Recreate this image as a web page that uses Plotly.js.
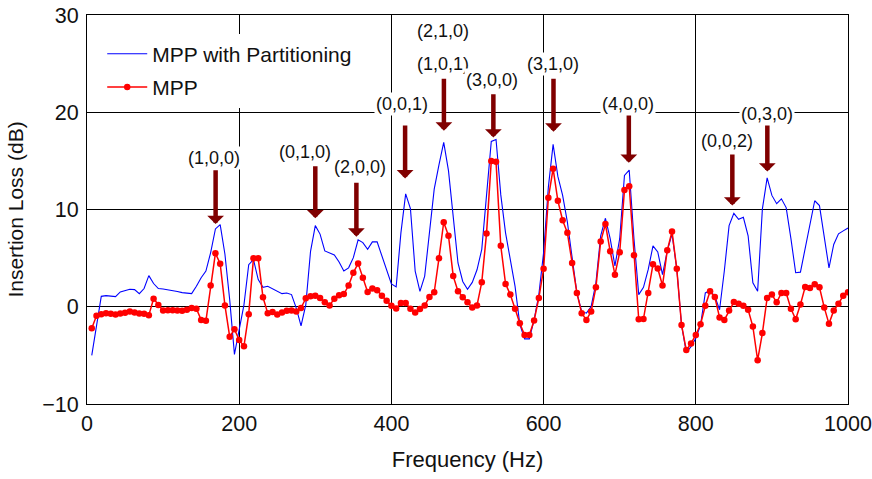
<!DOCTYPE html>
<html>
<head>
<meta charset="utf-8">
<script src="https://cdn.plot.ly/plotly-3.0.1.min.js"></script>
<style>html,body{margin:0;padding:0;background:#fff;}#chart{width:872px;height:479px;}</style>
</head>
<body>
<div id="chart"></div>
<script>
// Frequency grid (Hz)
var freq = [
6.25,12.5,18.75,25,31.25,37.5,43.75,50,56.25,62.5,68.75,75,81.25,87.5,93.75,100,
106.25,112.5,118.75,125,131.25,137.5,143.75,150,156.25,162.5,168.75,175,181.25,187.5,193.75,200,
206.25,212.5,218.75,225,231.25,237.5,243.75,250,256.25,262.5,268.75,275,281.25,287.5,293.75,300,
306.25,312.5,318.75,325,331.25,337.5,343.75,350,356.25,362.5,368.75,375,381.25,387.5,393.75,400,
406.25,412.5,418.75,425,431.25,437.5,443.75,450,456.25,462.5,468.75,475,481.25,487.5,493.75,500,
506.25,512.5,518.75,525,531.25,537.5,543.75,550,556.25,562.5,568.75,575,581.25,587.5,593.75,600,
606.25,612.5,618.75,625,631.25,637.5,643.75,650,656.25,662.5,668.75,675,681.25,687.5,693.75,700,
706.25,712.5,718.75,725,731.25,737.5,743.75,750,756.25,762.5,768.75,775,781.25,787.5,793.75,800,
806.25,812.5,818.75,825,831.25,837.5,843.75,850,856.25,862.5,868.75,875,881.25,887.5,893.75,900,
906.25,912.5,918.75,925,931.25,937.5,943.75,950,956.25,962.5,968.75,975,981.25,987.5,993.75,1000];

// Insertion loss, MPP with Partitioning (dB)
var ilPartition = [
-5.0,-2.0,1.07,1.14,1.07,1.04,1.52,1.63,1.8,1.76,1.35,1.87,3.2,2.39,1.87,1.83,
1.76,1.66,1.56,1.45,1.38,1.35,2.11,2.98,3.67,5.57,8.0,8.44,5.4,0.73,-4.9,-2.4,
0.2,4.33,4.84,2.8,2.0,2.1,1.83,1.6,1.35,1.42,1.25,-0.14,-1.97,0.2,5.7,8.34,
7.47,5.74,5.5,5.33,4.6,3.67,4.0,5.05,6.89,6.6,5.9,6.67,6.67,5.22,3.67,2.35,
2.04,7.6,11.6,10.1,3.67,1.59,3.15,8.0,12.1,14.6,16.9,14.0,9.4,4.5,2.6,1.8,
2.5,3.8,5.9,11.5,17.0,17.2,11.5,7.6,4.9,2.1,-1.8,-3.3,-3.3,-1.35,1.25,5.57,
12.3,16.7,13.4,11.45,8.7,4.9,1.42,-0.48,-0.66,0.03,2.46,7.3,9.1,7.0,4.2,7.0,
13.5,14.05,7.0,1.25,2.0,3.84,6.26,5.64,3.3,5.74,7.47,3.9,-1.87,-4.7,-4.1,-3.25,
-1.87,1.42,1.66,1.07,-0.31,3.7,8.34,9.6,9.0,9.2,7.3,2.46,1.6,10.07,13.26,11.45,
10.6,11.1,10.2,7.0,3.5,3.56,5.9,8.34,10.9,10.4,7.0,4.0,6.4,7.5,7.8,8.1];

// Insertion loss, MPP (dB)
var ilMPP = [
-2.2,-0.93,-0.76,-0.66,-0.73,-0.8,-0.7,-0.62,-0.5,-0.6,-0.7,-0.73,-0.87,0.83,0.17,-0.38,
-0.35,-0.35,-0.38,-0.4,-0.3,-0.14,-0.2,-1.35,-1.45,2.18,5.5,4.43,0.14,-3.08,-2.32,-3.43,
-4.05,-0.76,4.98,4.98,0.97,-0.66,-0.55,-0.8,-0.59,-0.42,-0.38,-0.48,-0.14,0.87,1.07,1.14,
0.9,0.45,0.14,0.83,1.18,1.31,2.18,3.5,4.46,2.98,1.52,1.87,1.7,1.14,0.62,0.1,
-0.17,0.38,0.38,-0.2,-0.59,-0.24,0.14,1.0,1.49,4.98,8.69,7.3,3.15,1.59,0.97,0.45,
-0.07,0.14,2.53,7.54,15.0,14.9,6.26,2.35,1.25,-0.2,-1.7,-2.9,-2.9,-1.42,0.9,3.9,
11.2,14.2,10.9,8.9,7.6,4.5,1.42,-0.66,-1.35,-0.48,2.0,6.7,8.5,5.7,3.3,5.6,
12.0,12.4,5.3,-1.28,-1.25,1.42,4.36,3.94,2.18,5.8,7.75,3.9,-1.87,-4.46,-3.77,-2.9,
-1.8,0.1,1.6,1.0,-1.1,-1.35,-0.38,0.48,0.31,0.1,-0.31,-2.04,-5.5,-2.7,0.9,1.25,
0.45,1.42,1.42,-0.2,-1.28,0.24,2.04,1.94,2.32,2.0,-0.07,-1.76,-0.38,0.31,1.14,1.49];

// Mode labels
var modeLabels = ["(1,0,0)","(0,1,0)","(2,0,0)","(0,0,1)","(2,1,0)","(1,0,1)","(3,0,0)","(3,1,0)","(4,0,0)","(0,0,2)","(0,3,0)"];
var labelX = [167, 286, 359, 414, 468, 468, 532, 612, 711, 841, 893];
var labelY = [15.3, 15.9, 14.4, 20.8, 28.4, 25.0, 23.3, 25.0, 20.8, 17.0, 19.8];

// Mode arrows
var arrowX = [169, 300, 354, 418, 469, 534, 613, 712, 848, 894];
var arrowTail = [14.2, 14.6, 12.9, 18.8, 23.6, 22.0, 23.6, 20.1, 15.8, 18.9];
var arrowHead = [8.5, 9.1, 7.2, 13.2, 18.1, 17.4, 18.0, 14.8, 10.4, 13.9];

var FONT = 'Arial, "Liberation Sans", sans-serif';
var TXT = '#111111';

var traces = [
  {x: freq, y: ilPartition, type: 'scatter', mode: 'lines', name: 'MPP with Partitioning',
   line: {color: '#0000ff', width: 1.1}, legendgroup: 'a'},
  {x: freq, y: ilMPP, type: 'scatter', mode: 'lines+markers', name: 'MPP',
   line: {color: '#ff0000', width: 1.5}, marker: {color: '#ff0000', size: 6.5}, legendgroup: 'b'}
];

var annotations = [];
for (var i = 0; i < arrowX.length; i++) {
  annotations.push({
    x: arrowX[i], y: arrowHead[i], xref: 'x', yref: 'y',
    ax: arrowX[i], ay: arrowTail[i], axref: 'x', ayref: 'y',
    text: '', showarrow: true, arrowhead: 1, arrowwidth: 4.5, arrowsize: 0.62,
    arrowcolor: '#800000', standoff: 0
  });
}
for (var j = 0; j < modeLabels.length; j++) {
  annotations.push({
    x: labelX[j], y: labelY[j], xref: 'x', yref: 'y', text: modeLabels[j],
    showarrow: false, bgcolor: '#ffffff', borderpad: 1,
    font: {family: FONT, size: 18, color: TXT}
  });
}

var layout = {
  width: 872, height: 479,
  margin: {l: 87, r: 24, t: 15, b: 75},
  paper_bgcolor: '#ffffff', plot_bgcolor: '#ffffff',
  font: {family: FONT, size: 21, color: TXT},
  showlegend: true,
  legend: {x: 0.02, y: 0.952, xanchor: 'left', yanchor: 'top', bgcolor: '#ffffff', itemwidth: 40,
           font: {family: FONT, size: 21, color: TXT}, traceorder: 'grouped', tracegroupgap: 3},
  xaxis: {range: [0, 1000], dtick: 200, tick0: 0, showgrid: true, gridcolor: '#000000', gridwidth: 1,
          zeroline: false, showline: true, linecolor: '#000000', linewidth: 1, mirror: true,
          ticks: '', tickfont: {family: FONT, size: 21.5, color: TXT},
          title: {text: 'Frequency (Hz)', font: {family: FONT, size: 22, color: TXT}, standoff: 16}},
  yaxis: {range: [-10, 30], dtick: 10, tick0: 0, showgrid: true, gridcolor: '#000000', gridwidth: 1,
          zeroline: false, showline: true, linecolor: '#000000', linewidth: 1, mirror: true,
          ticks: '', ticklabelstandoff: 3, tickfont: {family: FONT, size: 21.5, color: TXT},
          title: {text: 'Insertion Loss (dB)', font: {family: FONT, size: 21, color: TXT}, standoff: 12}},
  annotations: annotations
};

Plotly.newPlot('chart', traces, layout, {displayModeBar: false, staticPlot: true});
</script>
</body>
</html>
